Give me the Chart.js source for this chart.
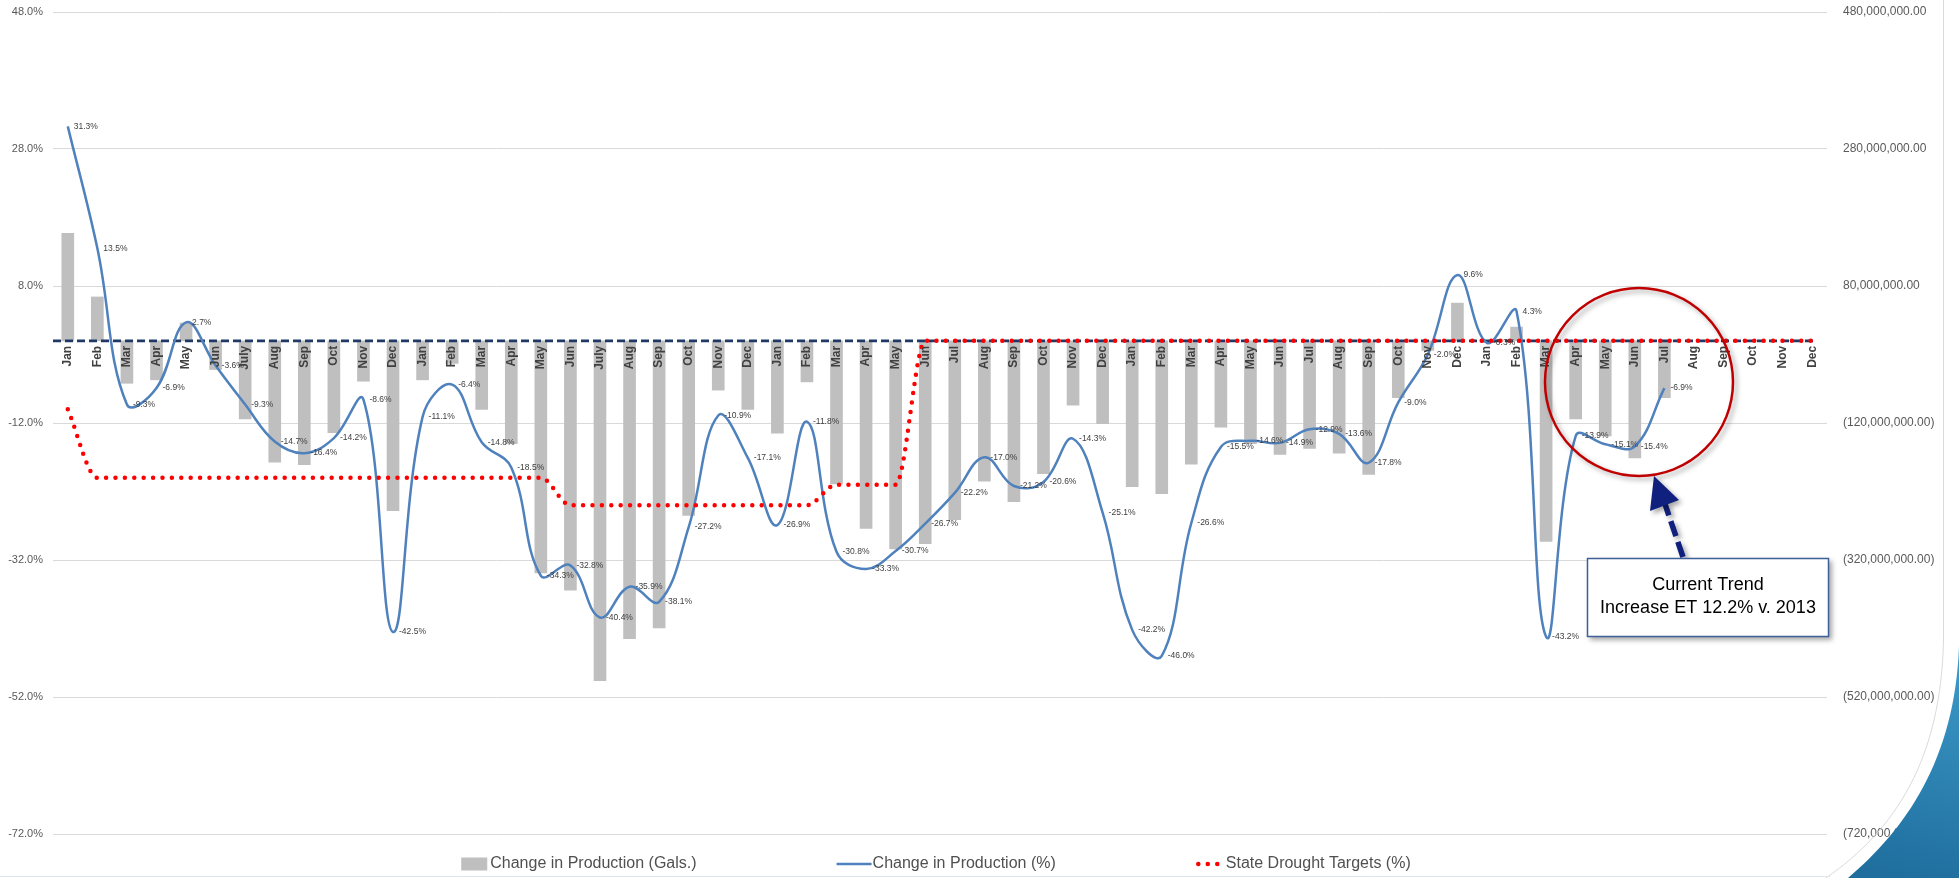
<!DOCTYPE html>
<html><head><meta charset="utf-8">
<script src="https://cdn.jsdelivr.net/npm/chart.js@4.4.1/dist/chart.umd.min.js"></script>
<style>html,body{margin:0;padding:0;background:#fff;overflow:hidden}canvas{display:block}</style>
</head><body>
<canvas id="c" width="1959" height="878"></canvas>
<script>
// ---------- DATA ----------
const months = [
  'Jan','Feb','Mar','Apr','May','Jun','July','Aug','Sep','Oct','Nov','Dec',
  'Jan','Feb','Mar','Apr','May','Jun','July','Aug','Sep','Oct','Nov','Dec',
  'Jan','Feb','Mar','Apr','May','Jun','Jul','Aug','Sep','Oct','Nov','Dec',
  'Jan','Feb','Mar','Apr','May','Jun','Jul','Aug','Sep','Oct','Nov','Dec',
  'Jan','Feb','Mar','Apr','May','Jun','Jul','Aug','Sep','Oct','Nov','Dec'
];
const productionGals = [
  157e6, 64e6, -62e6, -57e6, 26e6, -42e6, -114e6, -177e6, -181e6, -134e6, -59e6, -248e6,
  -57e6, -33e6, -100e6, -150e6, -339e6, -364e6, -496e6, -435e6, -419e6, -255e6, -72e6, -100e6,
  -135e6, -60e6, -209e6, -274e6, -304e6, -296e6, -261e6, -205e6, -235e6, -194e6, -94e6, -121e6,
  -213e6, -223e6, -180e6, -126e6, -150e6, -166e6, -157e6, -164e6, -195e6, -83e6, -14e6, 55e6,
  -2e6, 20e6, -293e6, -114e6, -139e6, -171e6, -83e6, null, null, null, null, null
];
const productionPct = [
  31.3, 13.5, -9.3, -6.9, 2.7, -3.6, -9.3, -14.7, -16.4, -14.2, -8.6, -42.5,
  -11.1, -6.4, -14.8, -18.5, -34.3, -32.8, -40.4, -35.9, -38.1, -27.2, -10.9, -17.1,
  -26.9, -11.8, -30.8, -33.3, -30.7, -26.7, -22.2, -17.0, -21.2, -20.6, -14.3, -25.1,
  -42.2, -46.0, -26.6, -15.5, -14.6, -14.9, -12.9, -13.6, -17.8, -9.0, -2.0, 9.6,
  -0.3, 4.3, -43.2, -13.9, -15.1, -15.4, -6.9, null, null, null, null, null
];
const droughtTargetPct = [
  -10, -20, -20, -20, -20, -20, -20, -20, -20, -20, -20, -20,
  -20, -20, -20, -20, -20, -24, -24, -24, -24, -24, -24, -24,
  -24, -24, -21, -21, -21, 0, 0, 0, 0, 0, 0, 0,
  0, 0, 0, 0, 0, 0, 0, 0, 0, 0, 0, 0,
  0, 0, 0, 0, 0, 0, 0, 0, 0, 0, 0, 0
];
const leftTicks = [-72, -52, -32, -12, 8, 28, 48];
const rightTicks = [-720e6, -520e6, -320e6, -120e6, 80e6, 280e6, 480e6];
const seriesLabels = ['Change in Production (Gals.)', 'Change in Production (%)', 'State Drought Targets (%)'];

// ---------- STYLE / PLUGINS ----------
const FONT = "'Liberation Sans', Arial, sans-serif";
Chart.defaults.font.family = FONT;

const fmtGal = v => {
  const s = Math.abs(v).toLocaleString('en-US', {minimumFractionDigits: 2, maximumFractionDigits: 2});
  return v < 0 ? '(' + s + ')' : s;
};

const zeroLinePlugin = {
  id: 'zeroLine',
  beforeDatasetDraw(chart, args) {
    if (args.index !== 1) return;
    const {ctx, chartArea} = chart;
    const y = chart.scales.y.getPixelForValue(0);
    ctx.save();
    ctx.strokeStyle = '#203864';
    ctx.lineWidth = 2.7;
    ctx.setLineDash([8, 4]);
    ctx.beginPath();
    ctx.moveTo(chartArea.left, y);
    ctx.lineTo(chartArea.right - 12, y);
    ctx.stroke();
    ctx.restore();
  }
};

const pctLabelPlugin = {
  id: 'pctLabels',
  afterDatasetsDraw(chart) {
    const meta = chart.getDatasetMeta(1);
    const data = chart.data.datasets[1].data;
    const {ctx} = chart;
    ctx.save();
    ctx.font = "8.5px " + FONT;
    ctx.fillStyle = '#404040';
    ctx.textAlign = 'left';
    ctx.textBaseline = 'middle';
    meta.data.forEach((pt, i) => {
      const v = data[i];
      if (v === null || v === undefined) return;
      ctx.fillText(v.toFixed(1) + '%', pt.x + 6, pt.y);
    });
    ctx.restore();
  }
};

const legendPlugin = {
  id: 'customLegend',
  afterDraw(chart) {
    const {ctx} = chart;
    ctx.save();
    ctx.font = "16px " + FONT;
    ctx.textBaseline = 'middle';
    ctx.textAlign = 'left';
    const y = 864;
    const ds = chart.data.datasets;
    const keys = ds.map(d => d.type === 'bar' ? {w: 26, g: 3} : (d.borderDash && d.borderDash.length ? {w: 24, g: 6} : {w: 35, g: 1}));
    const widths = ds.map((d, i) => keys[i].w + keys[i].g + ctx.measureText(d.label).width);
    const spacing = 140;
    const total = widths.reduce((a, b) => a + b, 0) + spacing * (ds.length - 1);
    let x = 936 - total / 2;
    ds.forEach((d, i) => {
      if (d.type === 'bar') {
        ctx.fillStyle = d.backgroundColor;
        ctx.fillRect(x, y - 6.5, 26, 13);
      } else if (d.borderDash && d.borderDash.length) {
        ctx.fillStyle = d.borderColor;
        for (let k = 0; k < 3; k++) {
          ctx.beginPath();
          ctx.arc(x + 2.5 + k * 9.5, y, 2.3, 0, Math.PI * 2);
          ctx.fill();
        }
      } else {
        ctx.strokeStyle = d.borderColor;
        ctx.lineWidth = 2.5;
        ctx.beginPath();
        ctx.moveTo(x, y);
        ctx.lineTo(x + 35, y);
        ctx.stroke();
      }
      ctx.fillStyle = '#505050';
      ctx.fillText(d.label, x + keys[i].w + keys[i].g, y);
      x += widths[i] + spacing;
    });
    ctx.restore();
  }
};

const decorPlugin = {
  id: 'decor',
  afterDraw(chart) {
    const {ctx} = chart;
    ctx.save();
    // annotation circle
    ctx.shadowColor = 'rgba(0,0,0,0.35)';
    ctx.shadowBlur = 5;
    ctx.shadowOffsetX = 3;
    ctx.shadowOffsetY = 3;
    ctx.strokeStyle = '#C00000';
    ctx.lineWidth = 2.5;
    ctx.beginPath();
    ctx.ellipse(1639, 382, 94, 94, 0, 0, Math.PI * 2);
    ctx.stroke();
    // arrow
    ctx.strokeStyle = '#10207F';
    ctx.lineWidth = 5.5;
    ctx.setLineDash([16, 6]);
    ctx.beginPath();
    ctx.moveTo(1683, 557);
    ctx.lineTo(1665, 504);
    ctx.stroke();
    ctx.setLineDash([]);
    ctx.fillStyle = '#10207F';
    ctx.beginPath();
    ctx.moveTo(1654, 476);
    ctx.lineTo(1679, 500);
    ctx.lineTo(1650, 511);
    ctx.closePath();
    ctx.fill();
    // text box
    ctx.fillStyle = '#ffffff';
    ctx.fillRect(1587, 558, 242, 79);
    ctx.shadowColor = 'transparent';
    ctx.strokeStyle = '#3F5F99';
    ctx.lineWidth = 1.5;
    ctx.strokeRect(1587.5, 558.5, 241, 78);
    ctx.fillStyle = '#000000';
    ctx.font = "18px " + FONT;
    ctx.textAlign = 'center';
    ctx.textBaseline = 'middle';
    ctx.fillText('Current Trend', 1708, 585);
    ctx.fillText('Increase ET 12.2% v. 2013', 1708, 608);
    ctx.restore();

    // slide frame decoration
    ctx.save();
    ctx.strokeStyle = '#DADADA';
    ctx.lineWidth = 1;
    ctx.beginPath();
    ctx.moveTo(1943.5, 0);
    ctx.lineTo(1943.5, 640);
    ctx.bezierCurveTo(1941, 760, 1895, 830, 1826, 878);
    ctx.stroke();
    ctx.strokeStyle = '#DDE5EE';
    ctx.beginPath();
    ctx.moveTo(0, 876.5);
    ctx.lineTo(1830, 876.5);
    ctx.stroke();
    const g = ctx.createLinearGradient(1950, 640, 1900, 878);
    g.addColorStop(0, '#3E9DCB');
    g.addColorStop(1, '#1F6E9E');
    ctx.fillStyle = g;
    ctx.beginPath();
    ctx.moveTo(1959, 646);
    ctx.bezierCurveTo(1955, 760, 1905, 830, 1848, 878);
    ctx.lineTo(1959, 878);
    ctx.closePath();
    ctx.fill();
    ctx.restore();
  }
};

new Chart(document.getElementById('c'), {
  type: 'bar',
  data: {
    labels: months,
    datasets: [
      {
        type: 'bar', label: seriesLabels[0], data: productionGals, yAxisID: 'y2',
        backgroundColor: '#BFBFBF', barThickness: 12, order: 3
      },
      {
        type: 'line', label: seriesLabels[1], data: productionPct, yAxisID: 'y',
        borderColor: '#4F81BD', borderWidth: 2.5, pointRadius: 0, tension: 0.4,
        fill: false, spanGaps: false, order: 2
      },
      {
        type: 'line', label: seriesLabels[2], data: droughtTargetPct, yAxisID: 'y',
        borderColor: '#FF0000', borderWidth: 4.5, borderDash: [0, 9.4], borderCapStyle: 'round',
        pointRadius: 0, cubicInterpolationMode: 'monotone', fill: false, order: 1
      }
    ]
  },
  options: {
    responsive: false,
    animation: false,
    devicePixelRatio: 1,
    layout: {padding: {top: 12, bottom: 44, left: 0, right: 0}},
    plugins: {legend: {display: false}, tooltip: {enabled: false}, title: {display: false}},
    scales: {
      x: {
        position: {y: 0},
        offset: true,
        grid: {display: false, drawTicks: false},
        border: {display: false},
        ticks: {
          z: 1,
          autoSkip: false, maxRotation: 90, minRotation: 90, padding: 5,
          color: '#404040', font: {size: 12, weight: 'bold', family: FONT}
        },
        afterFit: s => { s.height = 0; }
      },
      y: {
        position: 'left',
        min: -72, max: 48,
        grid: {color: '#D9D9D9', lineWidth: 1, drawTicks: false},
        border: {display: false},
        ticks: {
          padding: 10, color: '#595959', font: {size: 11, family: FONT},
          callback: v => v.toFixed(1) + '%'
        },
        afterBuildTicks: s => { s.ticks = leftTicks.map(v => ({value: v})); },
        afterFit: s => { s.width = 53; s.paddingTop = 0; s.paddingBottom = 0; }
      },
      y2: {
        position: 'right',
        min: -720e6, max: 480e6,
        grid: {display: false, drawTicks: false},
        border: {display: false},
        ticks: {
          padding: 16, color: '#595959', font: {size: 12, family: FONT},
          callback: v => fmtGal(v)
        },
        afterBuildTicks: s => { s.ticks = rightTicks.map(v => ({value: v})); },
        afterFit: s => { s.width = 132; s.paddingTop = 0; s.paddingBottom = 0; }
      }
    }
  },
  plugins: [zeroLinePlugin, pctLabelPlugin, legendPlugin, decorPlugin]
});
</script>
</body></html>
